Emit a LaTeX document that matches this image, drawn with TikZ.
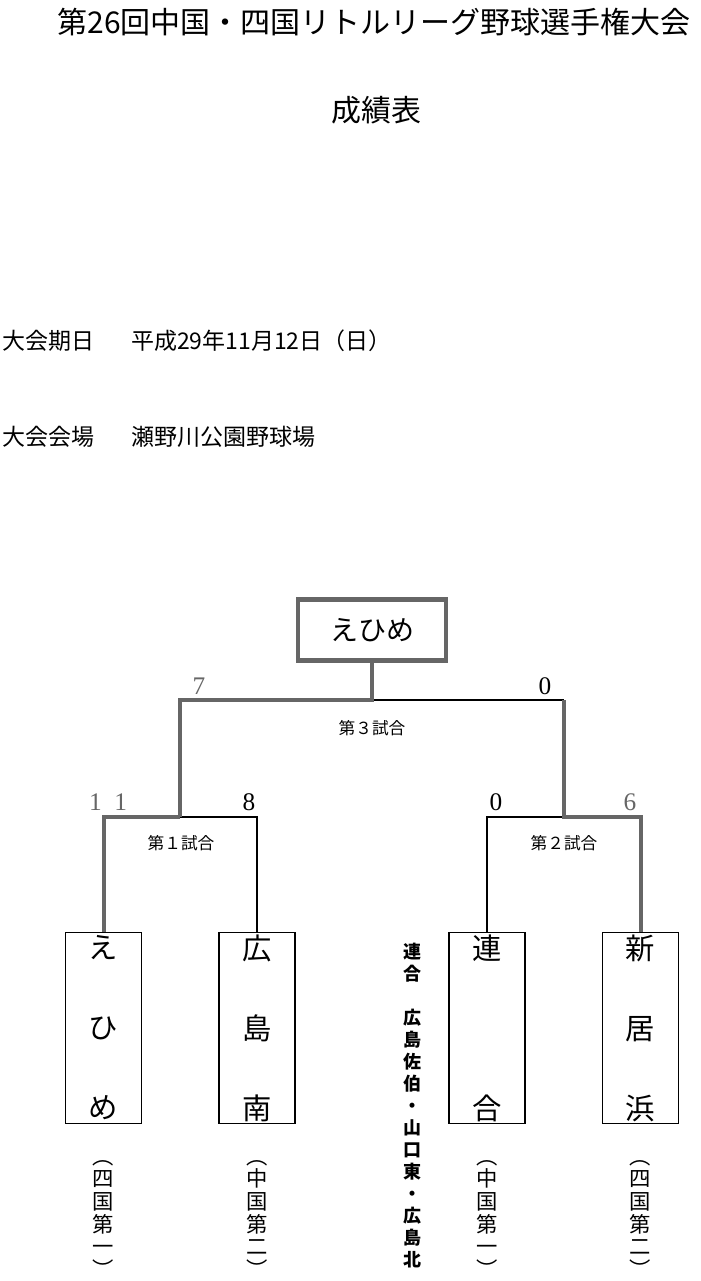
\documentclass[tikz,border=0pt]{standalone}
\usepackage{fontspec}
\newfontfamily\jp{Noto Sans CJK JP}
\newfontfamily\digits{Liberation Serif}
\definecolor{wingray}{HTML}{666666}

\begin{document}
\begin{tikzpicture}[x=0.75pt,y=-0.75pt,
  win/.style={draw=wingray,line width=3pt},
  lose/.style={draw=black,line width=1.1pt},
  team/.style={draw,line width=1.2pt,minimum width=57pt,minimum height=143pt,
    inner sep=0pt,align=center,font=\jp\fontsize{22}{60}\selectfont},
  champbox/.style={draw=wingray,line width=3.5pt,minimum width=111pt,minimum height=46pt,
    font=\jp\fontsize{21}{24}\selectfont},
  vlabel/.style={align=center,inner sep=0pt,font=\jp\fontsize{16}{17}\selectfont},
  match/.style={font=\jp\fontsize{12.5}{14}\selectfont},
  score/.style={font=\digits\fontsize{19}{20}\selectfont},
  note/.style={anchor=west,inner sep=0pt,font=\jp\fontsize{17.25}{20}\selectfont}]
  \useasboundingbox (0,0) rectangle (700,1281);
  % headings
  \node[font=\jp\fontsize{22.5}{26}\selectfont] (title) at (374,22) {第26回中国・四国リトルリーグ野球選手権大会};
  \node[font=\jp\fontsize{22.5}{26}\selectfont] (sub) at (376,110) {成績表};
  \node[note] (date) at (2,341) {大会期日\hspace{1.6em}平成29年11月12日（日）};
  \node[note] (place) at (2,437) {大会会場\hspace{1.6em}瀬野川公園野球場};
  % teams
  \node[champbox] (champ) at (372,630) {えひめ};
  \node[team] (ehime) at (103.5,1028) {え\\ひ\\め};
  \node[team] (hiro) at (257,1028) {広\\島\\南};
  \node[team] (rengo) at (487,1028) {連\\\\合};
  \node[team] (niihama) at (640.5,1028) {新\\居\\浜};
  \node[vlabel] (lab1) at (103.5,1219) {︵\\四\\国\\第\\一\\︶};
  \node[vlabel] (lab2) at (257,1219) {︵\\中\\国\\第\\二\\︶};
  \node[vlabel] (lab3) at (487,1219) {︵\\中\\国\\第\\一\\︶};
  \node[vlabel] (lab4) at (640.5,1219) {︵\\四\\国\\第\\二\\︶};
  \node[vlabel,font=\jp\bfseries\fontsize{13.5}{16.5}\selectfont] (members) at (412,1106)
    {連\\合\\　\\広\\島\\佐\\伯\\・\\山\\口\\東\\・\\広\\島\\北};
  % junctions
  \coordinate (f) at (372,700);
  \coordinate (fR) at (564,700);
  \coordinate (s1) at (180,817);
  \coordinate (s2) at (564,817);
  % losers
  \draw[lose] (f) -- (fR);
  \draw[lose] (s1) -| (hiro.north);
  \draw[lose] (s2) -| (rengo.north);
  % winners
  \draw[win] (champ.south) -- (f) -| (s1);
  \draw[win] (fR) -- (s2) -| (niihama.north);
  \draw[win] (s1) -| (ehime.north);
  % scores and match names
  \node[score,wingray] (sc7) at (199,686) {7};
  \node[score] (sc0a) at (545,686) {0};
  \node[score,wingray] (sc11) at (108,802) {1\enspace1};
  \node[score] (sc8) at (249,802) {8};
  \node[score] (sc0b) at (496,802) {0};
  \node[score,wingray] (sc6) at (630,802) {6};
  \node[match] (m3) at (372,728) {第３試合};
  \node[match] (m1) at (181,843) {第１試合};
  \node[match] (m2) at (564,843) {第２試合};
\end{tikzpicture}
\end{document}
